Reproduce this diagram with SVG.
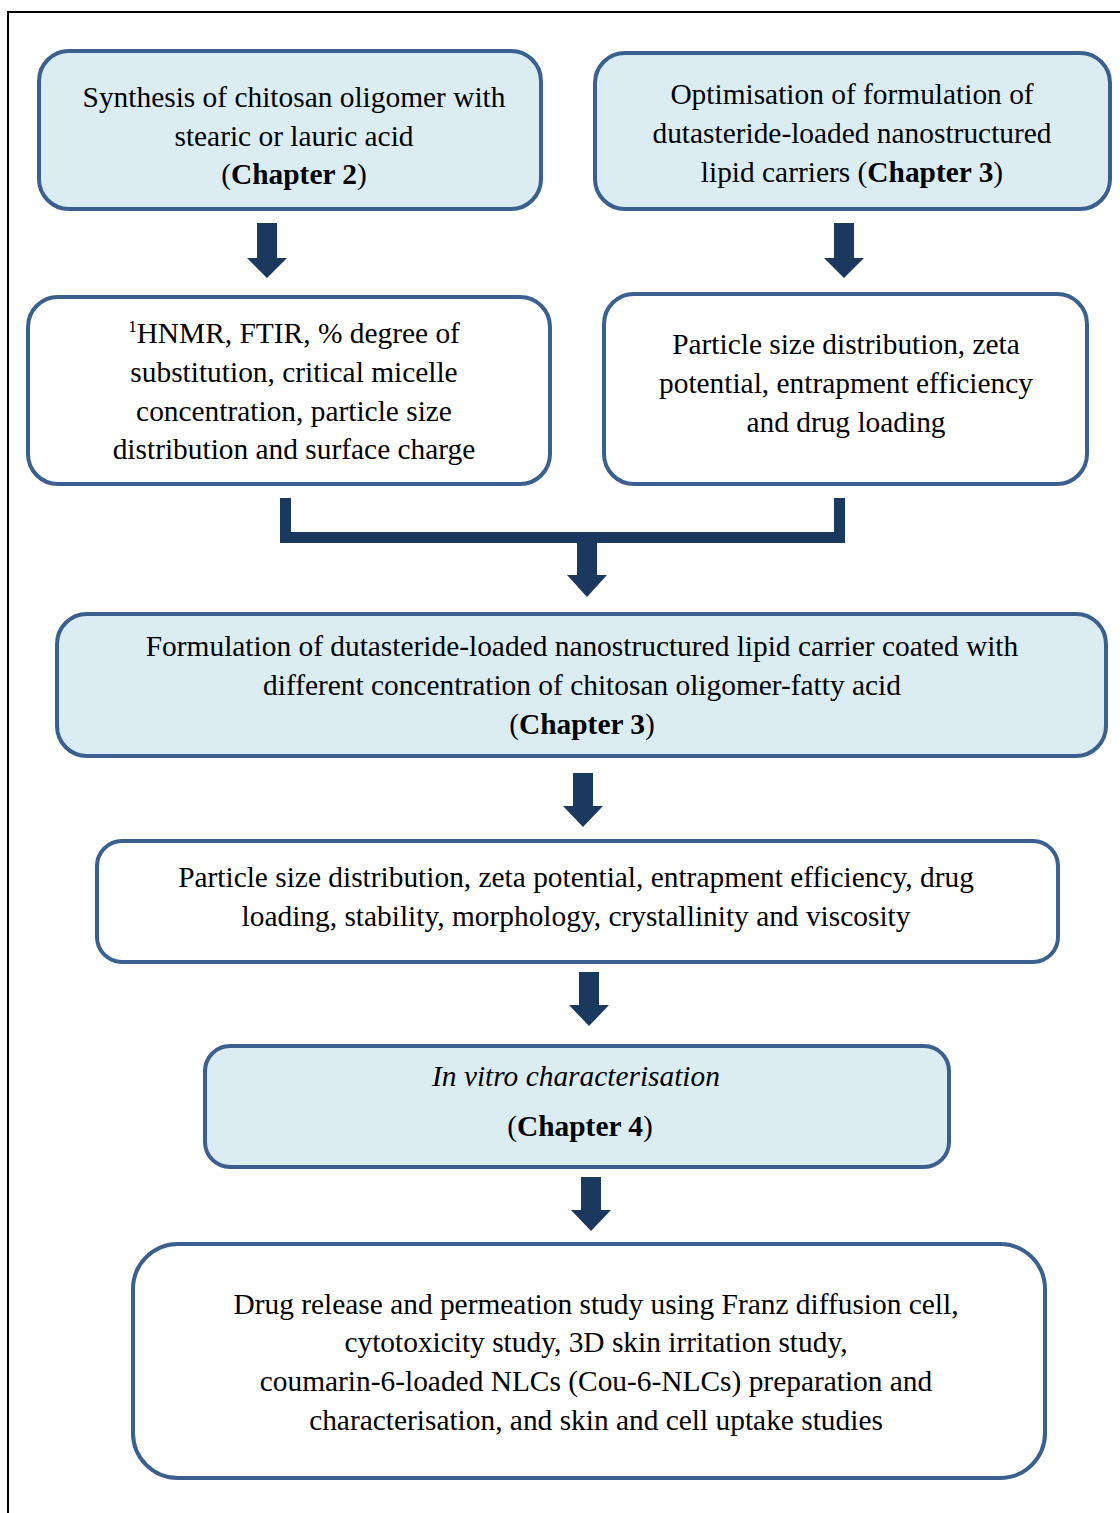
<svg xmlns="http://www.w3.org/2000/svg" width="1120" height="1513" viewBox="0 0 1120 1513">
<style>
.frame{fill:none;stroke:#000;stroke-width:2}
.box{stroke:#3B5F8E;stroke-width:4}
.lt{fill:#DBEDF3}
.wh{fill:#fff}
text{font-family:"Liberation Serif","Times New Roman",serif;font-size:29.4px;fill:#000;text-anchor:middle}
.b{font-weight:bold}
.arr{fill:#1B385E}
</style>
<rect width="1120" height="1513" fill="#fff"/>
<path class="frame" d="M8 1513 V12 H1120"/>
<g id="n1"><rect class="box lt" x="39" y="51" width="502" height="158" rx="30"/>
<text x="294" y="107">Synthesis of chitosan oligomer with</text>
<text x="294" y="146">stearic or lauric acid</text>
<text x="294" y="184">(<tspan class="b">Chapter 2</tspan>)</text></g>
<g id="n2"><rect class="box lt" x="595" y="53" width="515" height="156" rx="30"/>
<text x="852" y="104">Optimisation of formulation of</text>
<text x="852" y="143">dutasteride-loaded nanostructured</text>
<text x="852" y="182">lipid carriers (<tspan class="b">Chapter 3</tspan>)</text></g>
<g id="n3"><rect class="box wh" x="28" y="297" width="522" height="187" rx="30"/>
<text x="294" y="343"><tspan font-size="17" dy="-11">1</tspan><tspan dy="11">HNMR, FTIR, % degree of</tspan></text>
<text x="294" y="382">substitution, critical micelle</text>
<text x="294" y="421">concentration, particle size</text>
<text x="294" y="459">distribution and surface charge</text></g>
<g id="n4"><rect class="box wh" x="604" y="294" width="483" height="190" rx="30"/>
<text x="846" y="354">Particle size distribution, zeta</text>
<text x="846" y="393">potential, entrapment efficiency</text>
<text x="846" y="432">and drug loading</text></g>
<g id="n5"><rect class="box lt" x="57" y="614" width="1049" height="142" rx="30"/>
<text x="582" y="656">Formulation of dutasteride-loaded nanostructured lipid carrier coated with</text>
<text x="582" y="695">different concentration of chitosan oligomer-fatty acid</text>
<text x="582" y="734">(<tspan class="b">Chapter 3</tspan>)</text></g>
<g id="n6"><rect class="box wh" x="97" y="841" width="961" height="121" rx="25"/>
<text x="576" y="887">Particle size distribution, zeta potential, entrapment efficiency, drug</text>
<text x="576" y="926">loading, stability, morphology, crystallinity and viscosity</text></g>
<g id="n7"><rect class="box lt" x="205" y="1046" width="744" height="121" rx="25"/>
<text x="576" y="1086" font-style="italic">In vitro characterisation</text>
<text x="580" y="1136">(<tspan class="b">Chapter 4</tspan>)</text></g>
<g id="n8"><rect class="box wh" x="133" y="1244" width="912" height="234" rx="45"/>
<text x="596" y="1314">Drug release and permeation study using Franz diffusion cell,</text>
<text x="596" y="1352">cytotoxicity study, 3D skin irritation study,</text>
<text x="596" y="1391">coumarin-6-loaded NLCs (Cou-6-NLCs) preparation and</text>
<text x="596" y="1430">characterisation, and skin and cell uptake studies</text></g>
<g id="connectors">
<path class="arr" d="M257 223 H277 V258 H287 L267 278 L247 258 H257 Z"/>
<path class="arr" d="M834 223 H854 V258 H864 L844 278 L824 258 H834 Z"/>
<path class="arr" d="M280 498 H291 V532 H834 V498 H845 V543 H597 V575 H607 L587 597 L567 575 H577 V543 H280 Z"/>
<path class="arr" d="M573 773 H593 V806 H603 L583 827 L563 806 H573 Z"/>
<path class="arr" d="M579 972 H599 V1005 H609 L589 1026 L569 1005 H579 Z"/>
<path class="arr" d="M581 1177 H601 V1210 H611 L591 1231 L571 1210 H581 Z"/>
</g>
</svg>
